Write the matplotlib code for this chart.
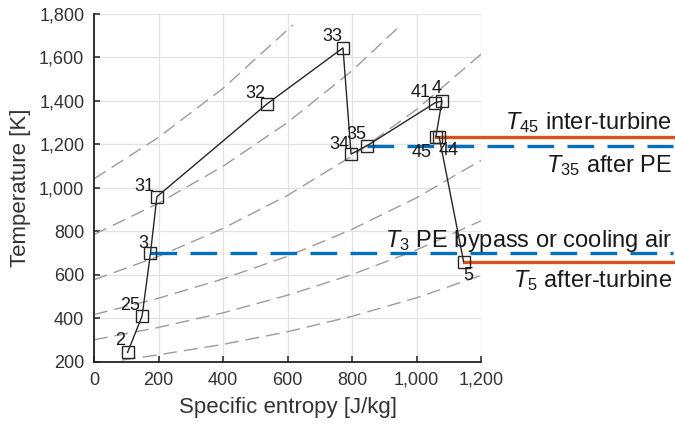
import matplotlib
matplotlib.use('Agg')
import matplotlib.pyplot as plt
from matplotlib.ticker import FuncFormatter

plt.rcParams['font.family'] = ['Liberation Sans', 'DejaVu Sans']
plt.rcParams['mathtext.fontset'] = 'custom'
plt.rcParams['mathtext.rm'] = 'Liberation Sans'
plt.rcParams['mathtext.it'] = 'Liberation Sans:italic'

# cycle state points (station, entropy J/kg, temperature K)
stations = ['2', '25', '3', '31', '32', '33', '34', '35', '41', '4', '45', '44', '5']
entropy = [104, 149, 175, 195, 536, 772, 797, 846, 1057, 1079, 1060, 1070, 1146]
temperature = [244, 411, 700, 960, 1386, 1644, 1156, 1194, 1391, 1400, 1236, 1236, 662]

# text offsets of the station labels (pixels)
label_dx = [-7, -12, -7, -13, -12, -11, -12, -11, -14, -5, -14, 10, 5]
label_dy = [12, 11, 10, 10, 11, 11, 10, 11, 10, 12, -16, -14, -14]

# background isobars
iso_s = [0, 200, 400, 600, 800, 1000, 1200]
iso1_s = [0, 200, 400, 617]
iso1_T = [1042, 1233, 1458, 1750]
iso2_s = [0, 200, 400, 600, 800, 952]
iso2_T = [786, 930, 1100, 1301, 1539, 1750]
iso3_T = [578, 686, 814, 966, 1147, 1361, 1615]
iso4_T = [418, 493, 582, 686, 810, 955, 1127]
iso5_T = [302, 359, 426, 507, 602, 715, 849]
iso6_s = [87, 200, 400, 600, 800, 1000, 1200]
iso6_T = [209, 233, 281, 339, 410, 495, 598]

isobars = [(iso1_s, iso1_T), (iso2_s, iso2_T), (iso_s, iso3_T),
           (iso_s, iso4_T), (iso_s, iso5_T), (iso6_s, iso6_T)]

# reference temperature lines: (station, colour, dashed, text, text baseline in fig coords)
ref_lines = [
    ('45', '#D95319', False, r'$T_{45}$ inter-turbine', 0.699),
    ('35', '#0072BD', True, r'$T_{35}$ after PE', 0.599),
    ('3', '#0072BD', True, r'$T_3$ PE bypass or cooling air', 0.424),
    ('5', '#D95319', False, r'$T_5$ after-turbine', 0.331),
]
s_line_end = 1795  # lines run past the axes to the right margin

fig = plt.figure(figsize=(6.75, 4.29), dpi=100)
ax = fig.add_axes([0.1393, 0.1562, 0.5733, 0.8112])

for xs, ys in isobars:
    ax.plot(xs, ys, color='#9c9c9c', lw=1.0, dashes=(10, 5), zorder=1)

ax.plot(entropy, temperature, color='#262626', lw=1.0, marker='s', ms=8,
        mfc='none', mec='#262626', mew=1.0, zorder=4)

for lab, x, y, dx, dy in zip(stations, entropy, temperature, label_dx, label_dy):
    ax.annotate(lab, (x, y), xytext=(dx, dy), textcoords='offset pixels',
                ha='center', va='center', fontsize=13, color='#1a1a1a', zorder=5)

for st, col, dashed, txt, ty in ref_lines:
    i = stations.index(st)
    line, = ax.plot([entropy[i], s_line_end], [temperature[i], temperature[i]],
                    color=col, lw=2.4, clip_on=False, zorder=3)
    if dashed:
        line.set_dashes((8, 4))
    fig.text(0.9956, ty, txt, ha='right', va='baseline', fontsize=17, color='#1a1a1a')

ax.set_xlim(0, 1200)
ax.set_ylim(200, 1800)
ax.set_xticks(range(0, 1201, 200))
ax.set_yticks(range(200, 1801, 200))
fmt = FuncFormatter(lambda v, p: f'{v:,.0f}')
ax.xaxis.set_major_formatter(fmt)
ax.yaxis.set_major_formatter(fmt)

ax.grid(True, color='#e2e2e2', lw=0.9)
ax.set_axisbelow(True)
for side in ['top', 'right']:
    ax.spines[side].set_visible(False)
for side in ['left', 'bottom']:
    ax.spines[side].set_linewidth(1.3)
    ax.spines[side].set_color('#222222')
ax.tick_params(direction='in', length=4, width=1.1, labelsize=13, pad=7,
               colors='#222222', labelcolor='#333333')

ax.set_xlabel('Specific entropy [J/kg]', fontsize=16, color='#333333', labelpad=6)
ax.set_ylabel('Temperature [K]', fontsize=16, color='#333333', labelpad=6)

fig.savefig('out.png', dpi=100)
